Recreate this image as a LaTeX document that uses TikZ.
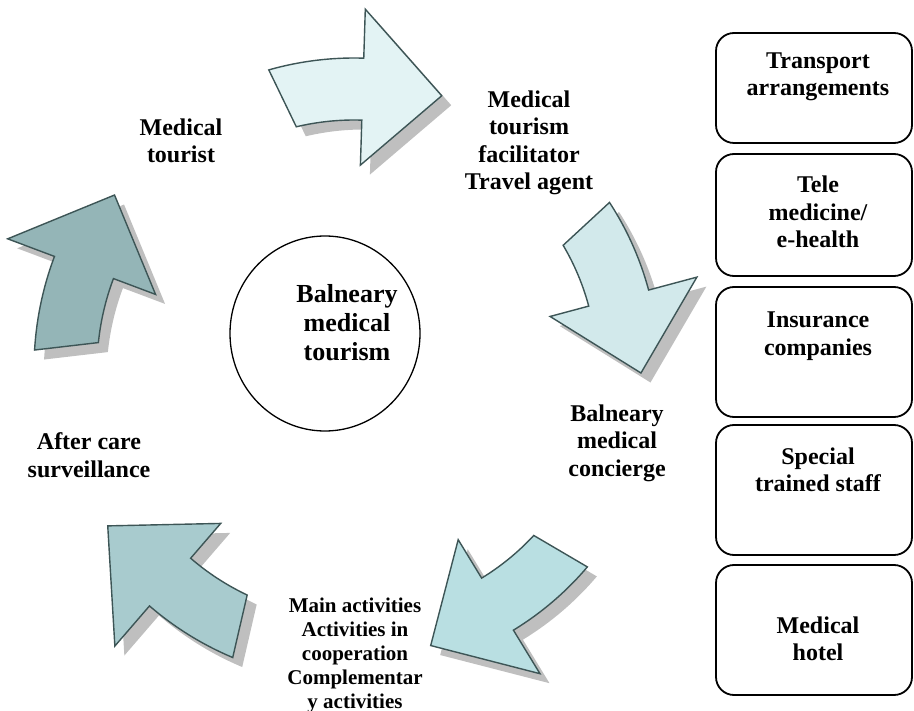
\documentclass[tikz,border=0pt]{standalone}
\usepackage{fontspec}
\setmainfont{Liberation Serif}
\usetikzlibrary{shapes.geometric}

\definecolor{arrowA}{HTML}{E3F3F4}
\definecolor{arrowB}{HTML}{D2E9EB}
\definecolor{arrowC}{HTML}{B9DFE2}
\definecolor{arrowD}{HTML}{A8CBCE}
\definecolor{arrowE}{HTML}{94B5B7}
\definecolor{arrowedge}{HTML}{3D5556}
\definecolor{shadowgray}{HTML}{BFBFBF}

% Curved block arrow around the current origin:
% #1 fill, #2 tail angle, #3 head-base angle, #4 tip angle,
% #5 inner radius, #6 outer radius, #7 inner barb radius,
% #8 outer barb radius, #9 tip radius
\newcommand\cyclearrow[9]{%
  \begin{scope}[shift={(9.5,9.5)}]
    \fill[arrowshadow] (#2:#6) arc[start angle=#2, end angle=#3, radius=#6]
      -- (#3:#8) -- (#4:#9) -- (#3:#7) -- (#3:#5)
      arc[start angle=#3, end angle=#2+2.5, radius=#5] -- cycle;
  \end{scope}
  \filldraw[arrowbody, fill=#1] (#2:#6) arc[start angle=#2, end angle=#3, radius=#6]
      -- (#3:#8) -- (#4:#9) -- (#3:#7) -- (#3:#5)
      arc[start angle=#3, end angle=#2+2.5, radius=#5] -- cycle;
}

\begin{document}
\begin{tikzpicture}[x=1pt, y=-1pt,
  arrowbody/.style={draw=arrowedge, line width=1.4pt, line join=miter},
  arrowshadow/.style={fill=shadowgray},
  sidebox/.style={draw, line width=1.8pt, rounded corners=18pt,
    minimum width=196pt, inner sep=0pt},
  hub/.style={draw, ellipse, line width=1.3pt, minimum width=190pt,
    minimum height=195pt, inner sep=0pt},
  lbl/.style={font=\fontsize{24}{27.5}\selectfont\bfseries, align=center,
    inner sep=0pt},
  hublbl/.style={font=\fontsize{26}{29}\selectfont\bfseries, align=center,
    inner sep=0pt},
  smalllbl/.style={font=\fontsize{21}{24}\selectfont\bfseries, align=center,
    inner sep=0pt}]

\useasboundingbox (0,0) rectangle (914,711);

% cycle of curved arrows
\begin{scope}[shift={(354,369)}]
  \cyclearrow{arrowA}{-105.9}{-88.2}{-72.2}{249}{311}{204}{360}{287}
  \cyclearrow{arrowB}{-33.1}{-15}{0.8}{243}{305}{203}{355}{287}
  \cyclearrow{arrowC}{40.3}{58.6}{74.5}{245}{306}{200}{357}{287}
  \cyclearrow{arrowD}{112.8}{130.8}{147.5}{250}{313}{204}{366}{292}
  \cyclearrow{arrowE}{183.4}{200.6}{216}{257}{320}{212}{370}{296}
\end{scope}

% central ellipse
\node[hub] (hub) at (325,333.5) {};
\node[hublbl] (hubtext) at (347,323) {Balneary\\medical\\tourism};

% stage labels
\node[lbl] (tourist) at (181,141) {Medical\\tourist};
\node[lbl] (facilitator) at (529,143) {Medical\\tourism\\facilitator\\Travel agent};
\node[lbl] (concierge) at (617,443) {Balneary\\medical\\concierge};
\node[smalllbl] (activities) at (355,655) {Main activities\\Activities in\\cooperation\\Complementar\\y activities};
\node[lbl] (aftercare) at (89,455) {After care\\surveillance};

% service boxes
\node[sidebox, minimum height=110pt] (transport) at (814,88) {};
\node[sidebox, minimum height=122pt] (tele) at (814,215) {};
\node[sidebox, minimum height=130pt] (insurance) at (814,352) {};
\node[sidebox, minimum height=130pt] (staff) at (814,490) {};
\node[sidebox, minimum height=130pt] (hotel) at (814,630) {};

\node[lbl] (transporttext) at (818,77) {Transport\\arrangements};
\node[lbl] (teletext) at (818,212) {Tele\\medicine/\\e-health};
\node[lbl] (insurancetext) at (818,336) {Insurance\\companies};
\node[lbl] (stafftext) at (818,470) {Special\\trained staff};
\node[lbl] (hoteltext) at (818,639) {Medical\\hotel};
\end{tikzpicture}
\end{document}
